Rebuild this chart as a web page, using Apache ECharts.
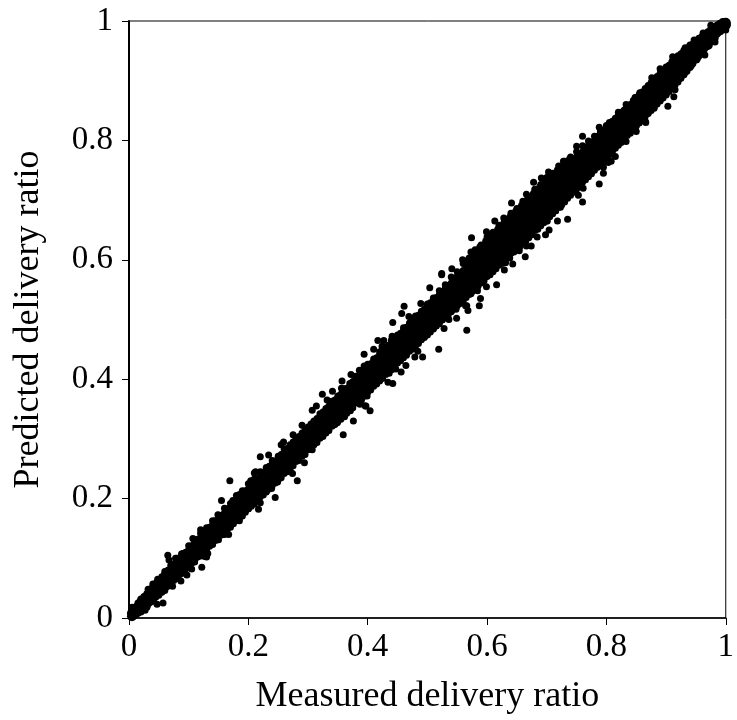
<!DOCTYPE html>
<html>
<head>
<meta charset="utf-8">
<title>Delivery ratio</title>
<script src="https://cdn.jsdelivr.net/npm/echarts@6/dist/echarts.min.js"></script>
<style>
  html, body { margin: 0; padding: 0; background: #fff; }
  #main { width: 737px; height: 720px; }
</style>
</head>
<body>
<div id="main"></div>
<script>
// points, one column per 0.01 of measured ratio
var measured = [.01,.02,.03,.04,.05,.06,.07,.08,.09,.10,.11,.12,.13,.14,.15,.16,.17,.18,.19,.20,
  .21,.22,.23,.24,.25,.26,.27,.28,.29,.30,.31,.32,.33,.34,.35,.36,.37,.38,.39,.40,
  .41,.42,.43,.44,.45,.46,.47,.48,.49,.50,.51,.52,.53,.54,.55,.56,.57,.58,.59,.60,
  .61,.62,.63,.64,.65,.66,.67,.68,.69,.70,.71,.72,.73,.74,.75,.76,.77,.78,.79,.80,
  .81,.82,.83,.84,.85,.86,.87,.88,.89,.90,.91,.92,.93,.94,.95,.96,.97,.98,.99,1];

var upperEdge = [.017,.031,.041,.053,.063,.074,.083,.095,.104,.114,.126,.135,.144,.156,.165,.176,.185,.197,.206,.216,
  .227,.236,.247,.258,.266,.278,.287,.299,.307,.318,.329,.338,.349,.357,.369,.38,.388,.4,.409,.421,
  .43,.441,.45,.463,.47,.482,.491,.503,.511,.522,.533,.541,.552,.561,.572,.582,.591,.601,.612,.621,
  .632,.641,.652,.661,.672,.683,.691,.703,.712,.722,.732,.741,.752,.761,.772,.781,.792,.8,.812,.821,
  .83,.842,.851,.86,.872,.881,.892,.902,.911,.921,.931,.94,.95,.958,.966,.974,.982,.99,.996,.998];

var upperMid = [.013,.026,.036,.047,.057,.068,.077,.088,.097,.107,.118,.128,.138,.148,.158,.168,.178,.188,.198,.208,
  .219,.228,.238,.249,.258,.269,.279,.289,.298,.309,.319,.329,.339,.349,.359,.37,.379,.39,.399,.41,
  .42,.431,.44,.451,.46,.471,.481,.491,.501,.511,.521,.531,.541,.551,.561,.571,.581,.591,.601,.611,
  .621,.631,.641,.651,.661,.671,.681,.691,.701,.711,.721,.731,.741,.751,.761,.771,.781,.791,.801,.811,
  .821,.831,.841,.851,.861,.871,.881,.891,.901,.911,.92,.93,.94,.949,.959,.968,.977,.986,.993,.997];

var centre = [.01,.02,.03,.04,.05,.06,.07,.08,.09,.099,.11,.12,.13,.14,.15,.16,.17,.18,.19,.2,
  .21,.22,.23,.24,.25,.26,.27,.28,.29,.3,.31,.32,.33,.34,.35,.36,.37,.38,.39,.4,
  .41,.42,.43,.44,.45,.46,.47,.48,.49,.5,.51,.52,.53,.54,.55,.56,.57,.58,.59,.6,
  .61,.62,.63,.64,.65,.66,.67,.68,.69,.7,.71,.72,.73,.74,.75,.76,.77,.78,.79,.8,
  .81,.82,.83,.84,.85,.86,.87,.88,.89,.9,.91,.92,.93,.94,.95,.96,.97,.98,.99,.995];

var lowerMid = [.007,.015,.024,.034,.044,.053,.063,.073,.083,.092,.102,.112,.122,.131,.141,.151,.161,.171,.18,.19,
  .2,.21,.22,.23,.24,.25,.26,.27,.28,.29,.299,.309,.319,.329,.339,.349,.358,.368,.378,.388,
  .398,.408,.418,.428,.438,.448,.457,.467,.477,.487,.497,.507,.516,.526,.536,.545,.555,.565,.575,.585,
  .594,.604,.613,.623,.633,.643,.652,.662,.672,.682,.692,.701,.711,.721,.731,.741,.751,.761,.771,.781,
  .791,.802,.812,.822,.832,.842,.852,.863,.873,.883,.894,.904,.915,.926,.937,.948,.96,.972,.984,.993];

var lowerEdge = [.004,.01,.018,.028,.038,.046,.056,.066,.075,.086,.094,.104,.113,.124,.131,.142,.152,.163,.171,.183,
  .191,.203,.211,.222,.231,.242,.25,.262,.271,.282,.29,.301,.31,.321,.329,.34,.348,.36,.367,.378,
  .388,.397,.408,.416,.427,.436,.447,.455,.466,.476,.485,.496,.503,.514,.523,.532,.542,.552,.561,.572,
  .58,.591,.599,.611,.618,.629,.637,.649,.657,.668,.677,.688,.697,.708,.718,.73,.739,.75,.76,.77,
  .781,.792,.803,.812,.824,.833,.845,.854,.866,.876,.887,.898,.91,.922,.935,.946,.958,.971,.982,.99];

// second set of columns, halfway between the first ones
var measuredB = [.005,.015,.025,.035,.045,.055,.065,.075,.085,.095,.105,.115,.125,.135,.145,.155,.165,.175,.185,.195,
  .205,.215,.225,.235,.245,.255,.265,.275,.285,.295,.305,.315,.325,.335,.345,.355,.365,.375,.385,.395,
  .405,.415,.425,.435,.445,.455,.465,.475,.485,.495,.505,.515,.525,.535,.545,.555,.565,.575,.585,.595,
  .605,.615,.625,.635,.645,.655,.665,.675,.685,.695,.705,.715,.725,.735,.745,.755,.765,.775,.785,.795,
  .805,.815,.825,.835,.845,.855,.865,.875,.885,.895,.905,.915,.925,.935,.945,.955,.965,.975,.985,.995];

var bandB1 = [.012,.025,.036,.048,.058,.069,.08,.09,.101,.11,.121,.132,.141,.152,.162,.172,.183,.193,.203,.213,
  .224,.233,.244,.254,.263,.274,.284,.295,.304,.315,.325,.334,.345,.355,.365,.375,.385,.396,.405,.416,
  .426,.436,.446,.457,.466,.477,.487,.498,.507,.517,.528,.537,.547,.557,.567,.577,.587,.597,.607,.617,
  .627,.637,.647,.657,.667,.678,.687,.698,.707,.717,.727,.737,.747,.757,.767,.777,.787,.797,.807,.817,
  .826,.837,.847,.856,.867,.877,.887,.897,.907,.917,.926,.935,.945,.954,.962,.971,.979,.987,.993,.999];

var bandB2 = [.008,.019,.029,.039,.05,.059,.07,.079,.09,.1,.11,.12,.13,.14,.15,.16,.17,.18,.19,.2,
  .21,.221,.23,.241,.25,.26,.27,.28,.29,.3,.31,.32,.33,.34,.35,.36,.37,.38,.39,.4,
  .411,.421,.431,.441,.451,.461,.471,.481,.491,.501,.511,.521,.531,.541,.551,.561,.571,.581,.591,.601,
  .611,.621,.631,.641,.651,.661,.671,.681,.691,.701,.711,.721,.731,.741,.751,.761,.771,.781,.791,.801,
  .811,.821,.831,.841,.851,.861,.871,.881,.891,.901,.911,.92,.93,.94,.95,.959,.969,.979,.988,.996];

var bandB3 = [.003,.011,.021,.031,.04,.05,.06,.07,.08,.09,.1,.11,.12,.129,.139,.149,.159,.169,.179,.189,
  .199,.209,.219,.229,.239,.249,.259,.269,.279,.289,.299,.309,.319,.329,.339,.348,.358,.368,.378,.388,
  .398,.408,.418,.428,.438,.448,.458,.468,.478,.488,.497,.507,.517,.527,.537,.547,.556,.566,.576,.586,
  .595,.605,.615,.625,.635,.644,.654,.664,.674,.684,.694,.704,.714,.724,.734,.744,.754,.764,.774,.784,
  .794,.804,.815,.825,.835,.845,.855,.865,.875,.885,.896,.906,.917,.927,.938,.949,.96,.97,.981,.991];

var bandB4 = [.002,.008,.016,.026,.035,.044,.053,.063,.073,.082,.092,.102,.111,.12,.13,.139,.149,.158,.168,.177,
  .187,.196,.206,.216,.226,.235,.245,.255,.264,.274,.284,.294,.304,.314,.324,.333,.343,.352,.362,.372,
  .382,.392,.401,.411,.421,.431,.44,.45,.46,.47,.479,.489,.499,.508,.518,.527,.537,.547,.556,.565,
  .575,.585,.594,.604,.613,.622,.632,.642,.651,.662,.672,.682,.692,.703,.713,.723,.734,.744,.755,.765,
  .776,.787,.797,.808,.818,.829,.84,.85,.861,.871,.882,.893,.904,.916,.929,.941,.954,.966,.978,.988];

// outermost dots on the upper side, the band sits high between 0.55 and 0.75
var outerX = [.06,.07,.08,.09,.10,.11,.12,.13,.14,.15,.16,.17,.18,.19,.20,
  .21,.22,.23,.24,.25,.26,.27,.28,.29,.30,.31,.32,.33,.34,.35,.36,.37,.38,.39,.40,
  .41,.42,.43,.44,.45,.46,.47,.48,.49,.50,.51,.52,.53,.54,.55,.56,.57,.58,.59,.60,
  .61,.62,.63,.64,.65,.66,.67,.68,.69,.70,.71,.72,.73,.74,.75,.76,.77,.78,.79,.80,
  .81,.82,.83,.84,.85,.86,.87,.88,.89,.90,.91,.92,.93,.94,.95];
var outerY = [.078,.088,.1,.108,.121,.13,.142,.151,.163,.172,.184,.192,.205,.213,.225,
  .233,.245,.252,.264,.271,.283,.29,.301,.31,.32,.33,.342,.351,.363,.372,.384,.393,.405,.413,.425,
  .434,.446,.454,.466,.474,.486,.494,.506,.514,.526,.536,.548,.558,.571,.58,.594,.603,.617,.625,.638,
  .646,.658,.666,.678,.686,.698,.706,.718,.726,.738,.745,.757,.765,.772,.781,.791,.799,.807,.815,.825,
  .832,.842,.849,.858,.866,.879,.89,.902,.912,.923,.932,.942,.951,.96,.966];

var bridgeX = [.57,.58,.59,.60,.61,.62,.63,.64,.65,.66,.67,.68,.69,.70,.71,.72,.73,.74];
var bridgeY = [.598,.61,.62,.63,.64,.65,.66,.67,.68,.69,.7,.71,.72,.73,.739,.749,.757,.767];

// lower side of the band from 0.5 up, where it is widest
var fillX = [.50,.51,.52,.53,.54,.55,.56,.57,.58,.59,.60,.61,.62,.63,.64,.65,.66,.67,.68,.69,.70,
  .71,.72,.73,.74,.75,.76,.77,.78,.79,.80,.81,.82,.83,.84,.85,.86,.87,.88,.89,.90,.91];
var fillY = [.474,.484,.493,.505,.513,.524,.533,.544,.553,.564,.573,.584,.592,.603,.612,.623,.632,.643,.652,.663,.672,
  .683,.692,.703,.712,.723,.733,.744,.753,.764,.773,.784,.794,.804,.814,.825,.835,.846,.856,.867,.877,.888];

// bumps along both edges of the band
var edgeX = [.469,.528,.549,.536,.484,.446,.436,.397,.389,.371,.361,.342,.564,.548,.441,.424,.394,
  .848,.82,.788,.75,.728,.703,.681,.866,.815,.803,.783,.74,.723,.711,.7,
  .078,.088,.107,.12,.144,.149,.174,.185,.204,.212,.067,.048,.04,.032,.02,.005,
  .047,.105,.132,.127,.185,.2,.22,.23,.239,.027,.055,.097,.14,.16,
  .22,.234,.259,.275,.29,.314,.324,.21,.255,.307,.332,.356,.386,
  .249,.274,.294,.29,.307,.361,.349,.387,.396,.399,.447,.446,.331,
  .666,.641,.628,.613,.599,.574,.573,.559,.524,.653,
  .701,.666,.654,.631,.638,.566,.573,.594,.715,.725,.74,
  .962,.932,.856,.833,.805,.903,.915,.865,.85,.825,.808,.795,.942,.965,.982,1,.975,1];
var edgeY = [.505,.485,.502,.5,.447,.418,.41,.355,.36,.347,.337,.323,.523,.517,.472,.455,.422,
  .872,.847,.822,.79,.765,.747,.715,.83,.773,.763,.755,.715,.688,.683,.665,
  .1,.107,.133,.148,.163,.173,.197,.207,.23,.245,.097,.065,.057,.048,.032,.018,
  .023,.082,.108,.103,.163,.183,.193,.212,.217,.013,.043,.072,.123,.14,
  .27,.273,.295,.307,.323,.355,.375,.243,.29,.348,.365,.385,.415,
  .228,.242,.26,.273,.282,.338,.327,.358,.355,.372,.417,.437,.313,
  .71,.695,.67,.665,.647,.637,.613,.6,.575,.685,
  .665,.623,.615,.595,.603,.523,.543,.572,.682,.697,.713,
  .98,.955,.88,.86,.83,.913,.885,.832,.815,.797,.765,.755,.927,.943,.965,.985,.993,.998];

var outlierX = [.065,.155,.169,.057,.282,.245,.217,.167,.122,.13,.087,.073,
  .566,.519,.492,.479,.464,.456,.442,.434,.404,.376,.359,.616,.599,.589,.587,.584,.629,.643,.568,
  .461,.457,.442,.417,.427,.394,.41,.341,.357,.372,.541,.524,.504,.489,
  .788,.735,.718,.704,.698,.684,.76,.753,.761,.758,.795,.833,.903,.913,
  .678,.691,.76,.876,.89,.911,.947,.664,.674];
var outlierY = [.105,.197,.23,.025,.23,.202,.182,.14,.085,.102,.062,.053,
  .482,.45,.437,.437,.423,.412,.393,.395,.347,.33,.307,.558,.555,.535,.523,.548,.583,.593,.515,
  .522,.51,.495,.465,.465,.442,.45,.38,.397,.408,.585,.577,.553,.527,
  .727,.668,.665,.65,.642,.638,.697,.708,.72,.728,.745,.798,.857,.873,
  .73,.737,.807,.905,.92,.94,.968,.605,.623];

var tickStep = 0.2;

function pairs(xs, ys) {
  return xs.map(function (x, i) { return [x, ys[i]]; });
}

// inner rows get a bigger dot so the band closes up without holes
var corePoints = []
  .concat(pairs(measured, upperMid))
  .concat(pairs(measured, centre))
  .concat(pairs(measured, lowerMid))
  .concat(pairs(measuredB, bandB2))
  .concat(pairs(measuredB, bandB3))
  .concat(pairs(bridgeX, bridgeY));

var points = []
  .concat(pairs(measured, upperEdge))
  .concat(pairs(measured, lowerEdge))
  .concat(pairs(measuredB, bandB1))
  .concat(pairs(measuredB, bandB4))
  .concat(pairs(outerX, outerY))
  .concat(pairs(fillX, fillY))
  .concat(pairs(edgeX, edgeY))
  .concat(pairs(outlierX, outlierY));

var chart = echarts.init(document.getElementById('main'), null, { renderer: 'canvas' });
var fontName = '"Liberation Serif", "Times New Roman", serif';

function axis(name, gap, lineWidth, labelMargin) {
  return {
    type: 'value',
    min: 0,
    max: 1,
    interval: tickStep,
    name: name,
    nameLocation: 'middle',
    nameGap: gap,
    nameMoveOverlap: false,
    nameTextStyle: { fontFamily: fontName, fontSize: 36, color: '#000' },
    axisLine: { show: true, onZero: false, lineStyle: { color: '#000', width: lineWidth } },
    axisTick: { show: true, inside: false, length: 7, lineStyle: { color: '#000', width: 1 } },
    axisLabel: { fontFamily: fontName, fontSize: 33, color: '#000', margin: labelMargin },
    splitLine: { show: false }
  };
}

function dots(data, size) {
  return {
    type: 'scatter',
    data: data,
    symbol: 'circle',
    symbolSize: size,
    clip: false,
    large: false,
    itemStyle: { color: '#000', opacity: 1 }
  };
}

chart.setOption({
  animation: false,
  backgroundColor: '#fff',
  grid: {
    show: true,
    left: 129,
    top: 21,
    width: 599,
    height: 600,
    borderColor: '#000',
    borderWidth: 1,
    backgroundColor: 'transparent'
  },
  xAxis: axis('Measured delivery ratio', 61, 1.5, 13),
  yAxis: axis('Predicted delivery ratio', 82, 2, 16),
  series: [dots(corePoints, 10), dots(points, 7)]
});
</script>
</body>
</html>
